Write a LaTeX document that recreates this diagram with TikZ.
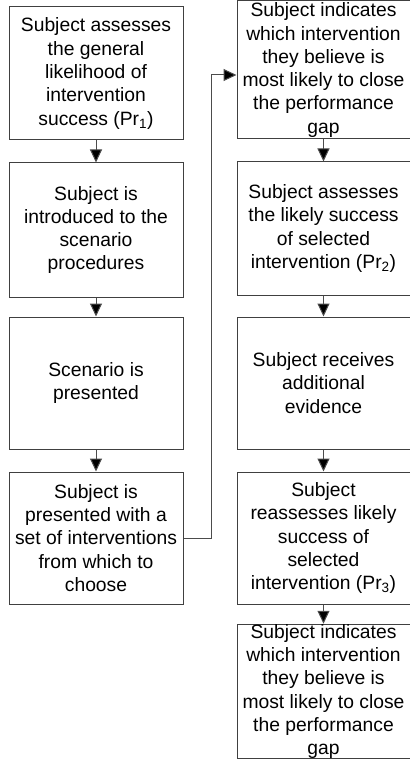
\documentclass[tikz,border=0pt]{standalone}
\usepackage{fontspec}
\setmainfont{Liberation Sans}
\usetikzlibrary{arrows.meta}
\begin{document}
\begin{tikzpicture}[x=1pt,y=-1pt,
  stepbox/.style={draw=black!75, line width=1pt, align=center, inner sep=0pt,
    font=\fontsize{19.3}{23.3}\selectfont},
  lbox/.style={stepbox, minimum width=174pt},
  rbox/.style={stepbox, minimum width=173pt},
  conn/.style={draw=black!70, line width=1pt, -{Triangle[width=12pt,length=13pt,fill=black]}}
]
\useasboundingbox (0,0) rectangle (409,759);
\node[lbox, minimum height=133pt] (l1) at (96,73.5) {Subject assesses\\the general\\likelihood of\\intervention\\success (Pr\textsubscript{1})};
\node[lbox, minimum height=134pt] (l2) at (96,230) {Subject is\\introduced to the\\scenario\\procedures};
\node[lbox, minimum height=132pt] (l3) at (96,383) {Scenario is\\presented};
\node[lbox, minimum height=132pt] (l4) at (96,538) {Subject is\\presented with a\\set of interventions\\from which to\\choose};
\node[rbox, minimum height=138pt] (r1) at (323.5,70) {Subject indicates\\which intervention\\they believe is\\most likely to close\\the performance\\gap};
\node[rbox, minimum height=133pt] (r2) at (323.5,228.5) {Subject assesses\\the likely success\\of selected\\intervention (Pr\textsubscript{2})};
\node[rbox, minimum height=132pt] (r3) at (323.5,383) {Subject receives\\additional\\evidence};
\node[rbox, minimum height=132pt] (r4) at (323.5,538) {Subject\\reassesses likely\\success of\\selected\\intervention (Pr\textsubscript{3})};
\node[rbox, minimum height=131pt] (r5) at (323.5,691.5) {Subject indicates\\which intervention\\they believe is\\most likely to close\\the performance\\gap};
\draw[conn] (l1) -- (l2);
\draw[conn] (l2) -- (l3);
\draw[conn] (l3) -- (l4);
\draw[conn] (r1) -- (r2);
\draw[conn] (r2) -- (r3);
\draw[conn] (r3) -- (r4);
\draw[conn] (r4) -- (r5);
\coordinate (c1) at (211,538);
\coordinate (c2) at (211,75);
\draw[conn] (l4.east) -- (c1) -- (c2) -- (c2 -| r1.west);
\end{tikzpicture}
\end{document}
